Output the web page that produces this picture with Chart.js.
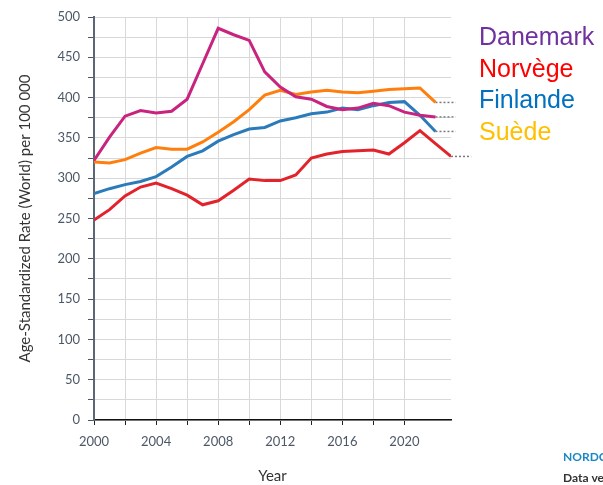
<!DOCTYPE html>
<html>
<head>
<meta charset="utf-8">
<title>Incidence - pays nordiques</title>
<script src="https://cdn.jsdelivr.net/npm/chart.js@4.4.1/dist/chart.umd.min.js"></script>
<style>
  html, body { margin: 0; padding: 0; background: #fff; }
  #wrap { width: 603px; height: 485px; }
</style>
</head>
<body>
<div id="wrap"><canvas id="incidenceChart" width="603" height="485"></canvas></div>
<script>
// Values
const years = [2000, 2001, 2002, 2003, 2004, 2005, 2006, 2007, 2008, 2009, 2010, 2011,
               2012, 2013, 2014, 2015, 2016, 2017, 2018, 2019, 2020, 2021, 2022, 2023];

const denmark = [322, 351, 377, 384, 381, 383, 398, 442, 486, 478, 471, 432,
                 413, 401, 398, 389, 385, 387, 393, 390, 382, 378, 376];
const norway  = [248, 261, 278, 289, 294, 287, 279, 267, 272, 285, 299, 297,
                 297, 304, 325, 330, 333, 334, 335, 330, 344, 359, 343, 327];
const finland = [281, 287, 292, 296, 302, 314, 327, 334, 346, 354, 361, 363,
                 371, 375, 380, 382, 387, 385, 390, 394, 395, 378, 358];
const sweden  = [320, 319, 323, 331, 338, 336, 336, 345, 357, 370, 385, 403,
                 409, 404, 407, 409, 407, 406, 408, 410, 411, 412, 394];

const legendNames = ['Danemark', 'Norvège', 'Finlande', 'Suède'];
const yTickLabels = [0, 50, 100, 150, 200, 250, 300, 350, 400, 450, 500];
const xTickLabels = [2000, 2004, 2008, 2012, 2016, 2020];

const lineColors   = ['#c8247f', '#e3232b', '#2b7bba', '#ff7f0e'];
const legendColors = ['#7030a0', '#ff0000', '#0070c0', '#ffc000'];
const FONT = 'Lato, "Open Sans", sans-serif';

/**
 * Turn a value list into {x, y} points along the year axis
 * @param {Array} values - series values, starting at the first year
 * @return {Array} - points for Chart.js
 */
function toPoints(values) {
    return values.map((v, i) => ({ x: years[i], y: v }));
}

/**
 * Short dotted stub after the last value of a series
 * @param {Array} values - series values
 * @return {Array} - two points, same value
 */
function tailPoints(values) {
    const lastYear = years[values.length - 1];
    const lastValue = values[values.length - 1];
    return [{ x: lastYear, y: lastValue }, { x: lastYear + 1.3, y: lastValue }];
}

const seriesList = [denmark, norway, finland, sweden];

const datasets = [];
seriesList.forEach((values, i) => {
    datasets.push({
        label: legendNames[i],
        data: toPoints(values),
        borderColor: lineColors[i],
        borderWidth: 3,
        pointRadius: 0,
        tension: 0,
        fill: false
    });
});
seriesList.forEach((values) => {
    datasets.push({
        label: '',
        data: tailPoints(values),
        borderColor: '#7a7a7a',
        borderWidth: 1.5,
        borderDash: [2, 2],
        pointRadius: 0,
        clip: false
    });
});

// Country names on the right and the source line at the bottom
const sideTextPlugin = {
    id: 'sideText',
    afterDraw(chart) {
        const ctx = chart.ctx;
        ctx.save();
        ctx.textAlign = 'left';
        ctx.textBaseline = 'alphabetic';
        ctx.font = '25px "Liberation Sans", Arial, sans-serif';
        legendNames.forEach((name, i) => {
            ctx.fillStyle = legendColors[i];
            ctx.fillText(name, 479, 45 + i * 31.7);
        });

        ctx.font = 'bold 12px ' + FONT;
        ctx.fillStyle = '#1b87c4';
        ctx.fillText('NORDCAN', 563, 461);
        ctx.fillStyle = '#333333';
        ctx.fillText('Data version', 563, 482);
        ctx.restore();
    }
};

new Chart(document.getElementById('incidenceChart'), {
    type: 'line',
    data: { datasets: datasets },
    options: {
        responsive: false,
        animation: false,
        layout: { padding: { left: 16, right: 152, top: 17, bottom: 0 } },
        plugins: {
            legend: { display: false },
            tooltip: { enabled: false }
        },
        scales: {
            x: {
                type: 'linear',
                min: 2000,
                max: 2023,
                ticks: {
                    stepSize: 2,
                    maxRotation: 0,
                    autoSkip: false,
                    color: '#4d5866',
                    font: { family: FONT, size: 13 },
                    padding: 9,
                    callback: (v) => xTickLabels.includes(v) ? String(v) : ''
                },
                afterBuildTicks: (scale) => {
                    scale.ticks = scale.ticks.filter(t => t.value % 2 === 0);
                },
                grid: { color: '#d9d9d9', lineWidth: 1, tickColor: '#222', tickLength: 5 },
                border: { color: '#111', width: 1.5 },
                title: {
                    display: true,
                    text: 'Year',
                    color: '#333',
                    font: { family: FONT, size: 15 },
                    padding: { top: 14, bottom: 0 }
                },
                afterFit: (scale) => { scale.height = 65; }
            },
            y: {
                min: 0,
                max: 500,
                ticks: {
                    stepSize: 25,
                    autoSkip: false,
                    color: '#4d5866',
                    font: { family: FONT, size: 13 },
                    padding: 8,
                    callback: (v) => yTickLabels.includes(v) ? String(v) : ''
                },
                grid: { color: '#d9d9d9', lineWidth: 1, tickColor: '#4d5866', tickLength: 6 },
                border: { color: '#5b6775', width: 2 },
                title: {
                    display: true,
                    text: 'Age-Standardized Rate (World) per 100 000',
                    color: '#333',
                    font: { family: FONT, size: 15 },
                    padding: { top: 0, bottom: 14 }
                },
                afterFit: (scale) => { scale.width = 78; }
            }
        }
    },
    plugins: [sideTextPlugin]
});
</script>
</body>
</html>
